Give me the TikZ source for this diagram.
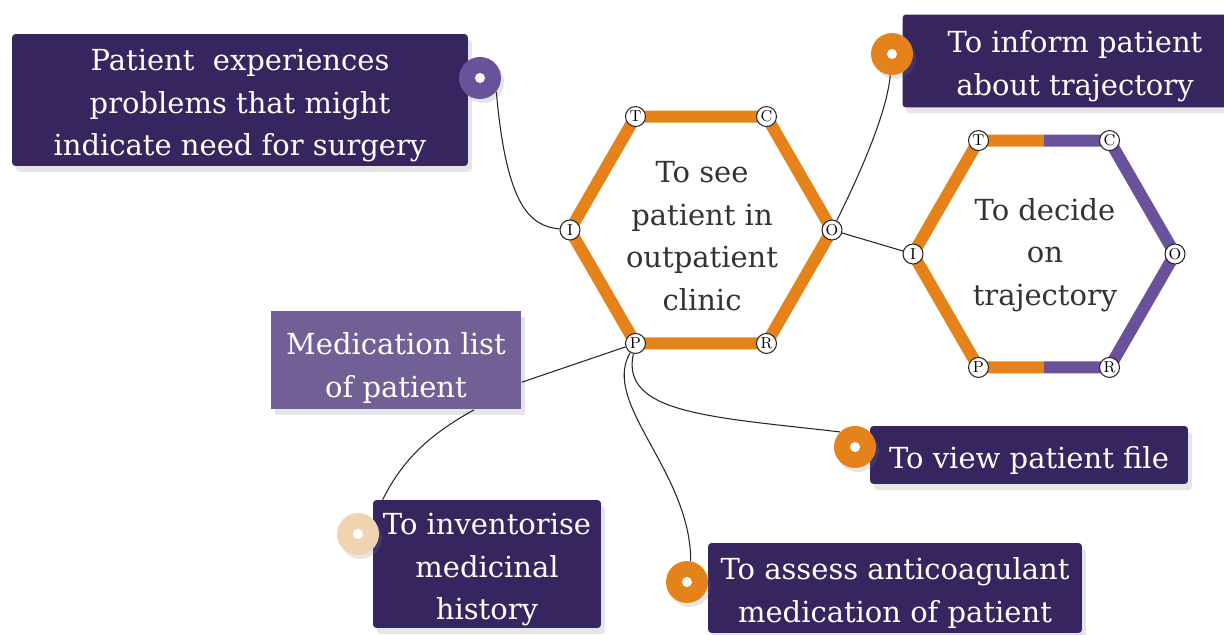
\documentclass[tikz,border=0pt]{standalone}
\usepackage{fontspec}
\newfontfamily\slab{DejaVu Serif}
\usetikzlibrary{calc,shadows}

\definecolor{nightpurple}{HTML}{36255E}
\definecolor{listpurple}{HTML}{716096}
\definecolor{hexpurple}{HTML}{6A529B}
\definecolor{hexorange}{HTML}{E5831A}
\definecolor{peach}{HTML}{F0D3B0}
\definecolor{hextext}{HTML}{333333}

% extra room above the first line of a box
\newcommand{\topgap}{\rule{0pt}{18.5pt}}

\tikzset{
  goalbox/.style={fill=nightpurple, rounded corners=2pt, text=white, align=center,
    inner sep=0pt, font=\slab\fontsize{16.5}{24.4}\selectfont,
    drop shadow={opacity=.2, shadow xshift=.8mm, shadow yshift=-1.2mm}},
  databox/.style={goalbox, fill=listpurple, sharp corners},
  knob/.style={circle, fill=#1, minimum size=8.4mm, inner sep=0pt,
    drop shadow={opacity=.2, shadow xshift=.6mm, shadow yshift=-.8mm},
    path picture={\fill[white] (path picture bounding box.center) circle (1mm);}},
  port/.style={circle, draw=black!85, fill=white, line width=.6pt, minimum size=4mm,
    inner sep=0pt, font=\fontsize{9}{9}\selectfont},
  hexline/.style={line width=2.4mm},
  hexlabel/.style={text=hextext, align=center, font=\slab\fontsize{16.5}{24.2}\selectfont},
  link/.style={draw=black!85, line width=.6pt}
}

\begin{document}
\begin{tikzpicture}[x=0.02cm, y=-0.02cm]

\fill[white] (0,0) rectangle (1224,635);
\clip (0,0) rectangle (1224,635);

% hexagon corners
\coordinate (see) at (701,230);
\coordinate (dec) at (1044,254);
\foreach \l/\a in {O/0, C/-60, T/-120, I/180, P/120, R/60} {
  \coordinate (s\l) at ($(see)+(\a:131)$);
  \coordinate (d\l) at ($(dec)+(\a:131)$);
}

\draw[hexline, hexorange] (sT) -- (sC) -- (sO) -- (sR) -- (sP) -- (sI) -- cycle;
\draw[hexline, hexorange] ($(dT)!.5!(dC)$) -- (dT) -- (dI) -- (dP) -- ($(dP)!.5!(dR)$);
\draw[hexline, hexpurple] ($(dT)!.5!(dC)$) -- (dC) -- (dO) -- (dR) -- ($(dP)!.5!(dR)$);

\node[hexlabel] (seelabel) at (702,236) {To see\\patient in\\outpatient\\clinic};
\node[hexlabel] (declabel) at (1045,255) {To decide\\on\\trajectory};

\foreach \l in {O, C, T, I, P, R} {
  \node[port] (see\l) at (s\l) {\l};
  \node[port] (dec\l) at (d\l) {\l};
}

% boxes
\node[goalbox, minimum width=9.12cm, minimum height=2.64cm] (problem) at (240,100)
  {\topgap Patient\ \ experiences\\problems that might\\indicate need for surgery};
\node[goalbox, minimum width=6.9cm, minimum height=1.86cm] (inform) at (1075,61)
  {\topgap To inform patient\\about trajectory};
\node[databox, minimum width=5.02cm, minimum height=1.98cm] (med) at (396,360)
  {\rule{0pt}{22pt}Medication list\\of patient};
\node[goalbox, minimum width=6.36cm, minimum height=1.16cm] (view) at (1029,455)
  {\topgap To view patient file};
\node[goalbox, minimum width=4.56cm, minimum height=2.56cm] (inv) at (487,564)
  {\topgap To inventorise\\medicinal\\history};
\node[goalbox, minimum width=7.48cm, minimum height=1.8cm] (assess) at (895,588)
  {\topgap To assess anticoagulant\\medication of patient};

% knobs
\node[knob=hexpurple] (problemknob) at (480,78) {};
\node[knob=hexorange] (informknob) at (892,54) {};
\node[knob=hexorange] (viewknob) at (855,447) {};
\node[knob=peach] (invknob) at (358,534) {};
\node[knob=hexorange] (assessknob) at (687,582) {};

% links
\draw[link] (problemknob.-40) .. controls +(10,115) and +(-40,-4) .. (seeI);
\draw[link] (seeO) .. controls +(25,-50) and +(-5,60) .. (informknob);
\draw[link] (seeO) -- (decI);
\draw[link] (seeP) -- (med.-10);
\draw[link] ($(med.south)+(78,0)$) .. controls +(-45,25) and +(20,-40) .. ($(inv.north west)+(10,0)$);
\draw[link] (seeP) .. controls +(-15,70) and +(-130,-15) .. (viewknob.135);
\draw[link] (seeP) .. controls +(-35,60) and +(0,-90) .. (assessknob.80);

\end{tikzpicture}
\end{document}
